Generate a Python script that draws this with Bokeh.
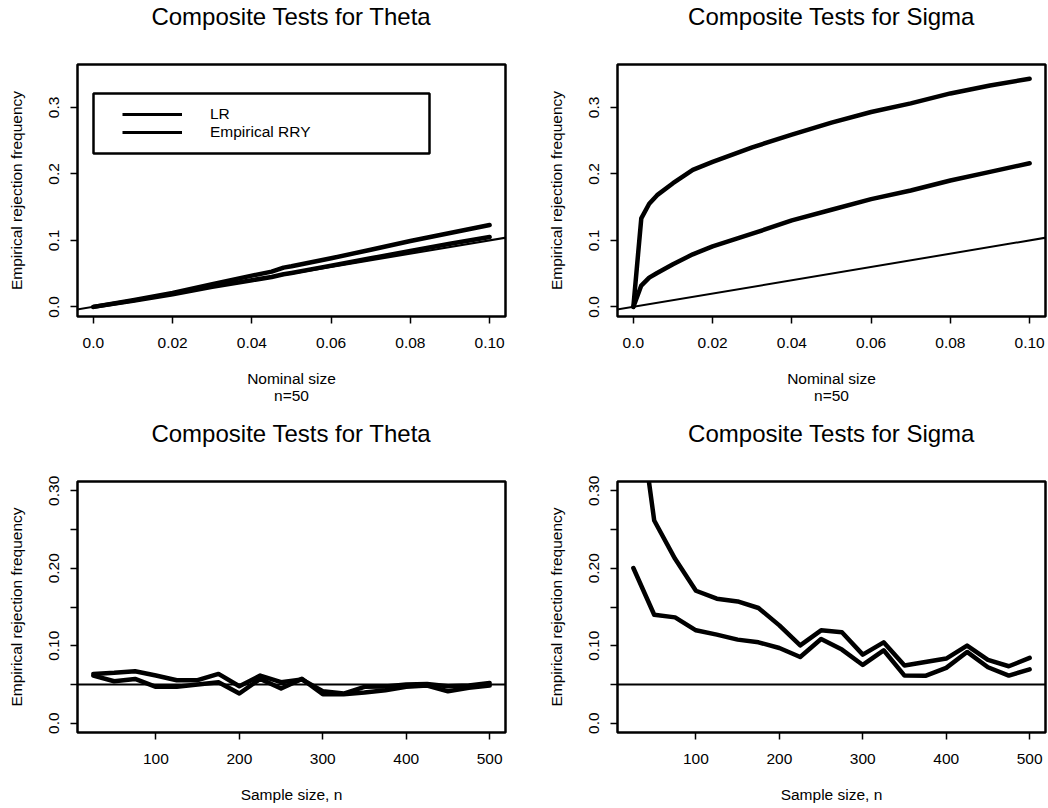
from bokeh.plotting import figure
from bokeh.models import Range1d, FixedTicker, Slope, Span, Legend, LegendItem, BoxAnnotation, Title
from bokeh.layouts import column, row
from bokeh.embed import file_html
from bokeh.resources import INLINE

FONT = "Liberation Sans"

# ---- data: rejection frequency vs nominal size (n = 50) ----
theta_nom_x = [0.0, 0.01, 0.02, 0.03, 0.04, 0.045, 0.048, 0.05, 0.06, 0.07, 0.08, 0.09, 0.10]
theta_nom_lr = [0.0, 0.010, 0.021, 0.034, 0.047, 0.053, 0.059, 0.061, 0.073, 0.086, 0.099, 0.111, 0.123]
theta_nom_rry = [0.0, 0.009, 0.019, 0.030, 0.040, 0.045, 0.049, 0.051, 0.062, 0.073, 0.084, 0.095, 0.105]

sigma_nom_x = [0.0, 0.002, 0.004, 0.006, 0.01, 0.015, 0.02, 0.03, 0.04, 0.05, 0.06, 0.07, 0.08, 0.09, 0.10]
sigma_nom_lr = [0.0, 0.133, 0.155, 0.168, 0.186, 0.206, 0.218, 0.240, 0.259, 0.277, 0.293, 0.306, 0.321, 0.333, 0.343]
sigma_nom_rry = [0.0, 0.032, 0.044, 0.051, 0.064, 0.079, 0.091, 0.110, 0.130, 0.146, 0.162, 0.175, 0.190, 0.203, 0.216]

# ---- data: rejection frequency vs sample size (nominal 5%) ----
sample_sizes = [25, 50, 75, 100, 125, 150, 175, 200, 225, 250, 275, 300, 325, 350, 375, 400, 425, 450, 475, 500]
theta_n_lr = [0.0636, 0.065, 0.067, 0.0615, 0.0555, 0.0555, 0.0636, 0.0477, 0.0615, 0.0529, 0.0563, 0.0413,
              0.0383, 0.0470, 0.0475, 0.0499, 0.0507, 0.0477, 0.0486, 0.0520]
theta_n_rry = [0.0615, 0.0542, 0.0572, 0.0470, 0.0470, 0.0499, 0.0529, 0.0383, 0.0572, 0.0447, 0.0572, 0.0374,
               0.0374, 0.0396, 0.0426, 0.0470, 0.0486, 0.0413, 0.0456, 0.0486]
sigma_n_lr = [0.460, 0.2616, 0.2122, 0.171, 0.1607, 0.1572, 0.1487, 0.1263, 0.1005, 0.1199, 0.1173, 0.0885,
              0.1044, 0.0744, 0.0791, 0.0834, 0.1001, 0.0817, 0.0735, 0.0843]
sigma_n_rry = [0.2003, 0.140, 0.1366, 0.1199, 0.1143, 0.1079, 0.1044, 0.0971, 0.0855, 0.1087, 0.0950, 0.0752,
               0.0941, 0.0615, 0.0611, 0.0714, 0.0920, 0.0722, 0.0615, 0.0696]
nominal_level = 0.05

# ---- axis ticks and labels ----
nom_xticks = [0.0, 0.02, 0.04, 0.06, 0.08, 0.10]
nom_xlabels = ["0.0", "0.02", "0.04", "0.06", "0.08", "0.10"]
nom_yticks = [0.0, 0.1, 0.2, 0.3]
nom_ylabels = ["0.0", "0.1", "0.2", "0.3"]
n_xticks = [100, 200, 300, 400, 500]
n_xlabels = ["100", "200", "300", "400", "500"]
n_yticks = [0.0, 0.05, 0.10, 0.15, 0.20, 0.25, 0.30]
n_ylabels = ["0.0", "", "0.10", "", "0.20", "", "0.30"]
legend_labels = ["LR", "Empirical RRY"]

titles = ["Composite Tests for Theta", "Composite Tests for Sigma"]
ylab = "Empirical rejection frequency"


def make_panel(title, xlab, xr, yr, xticks, xlabels, yticks, ylabels, left, right, top, bottom, fh):
    p = figure(frame_width=428, frame_height=fh, x_range=Range1d(*xr), y_range=Range1d(*yr),
               output_backend="svg", toolbar_location=None, title=None,
               min_border_left=left, min_border_right=right, min_border_top=top, min_border_bottom=bottom,
               background_fill_color="white", border_fill_color="white")
    p.outline_line_color = "black"
    p.outline_line_width = 2.5
    p.outline_line_alpha = 1.0
    p.xgrid.visible = False
    p.ygrid.visible = False
    # spacer next to the frame, then the main title above it
    p.add_layout(Title(text=" ", text_font_size="10px", standoff=22), "above")
    p.add_layout(Title(text=title, align="center", vertical_align="bottom", standoff=0,
                       text_font=FONT, text_font_size="24px", text_font_style="normal",
                       text_color="black"), "above")
    for ax, ticks, labels in ((p.xaxis[0], xticks, xlabels), (p.yaxis[0], yticks, ylabels)):
        ax.ticker = FixedTicker(ticks=ticks)
        ax.major_label_overrides = {t: l for t, l in zip(ticks, labels)}
        ax.minor_tick_line_color = None
        ax.axis_line_color = None
        ax.major_tick_line_color = "black"
        ax.major_tick_line_width = 1.5
        ax.major_tick_out = 7
        ax.major_tick_in = 0
        ax.major_label_text_font = FONT
        ax.major_label_text_font_size = "15.5px"
        ax.major_label_text_color = "black"
        ax.axis_label_text_font = FONT
        ax.axis_label_text_font_size = "15.5px"
        ax.axis_label_text_font_style = "normal"
        ax.axis_label_text_color = "black"
        ax.axis_label_text_line_height = 1.05
    p.xaxis.axis_label = xlab
    p.yaxis.axis_label = ylab
    p.yaxis.major_label_orientation = "vertical"
    p.xaxis.major_label_standoff = 14
    p.yaxis.major_label_standoff = 11
    p.xaxis.axis_label_standoff = 19
    p.yaxis.axis_label_standoff = 22
    return p


def add_series(p, x, a, b):
    r1 = p.line(x, a, line_color="black", line_width=4.5, line_join="round", line_cap="round")
    r2 = p.line(x, b, line_color="black", line_width=4.5, line_join="round", line_cap="round")
    return r1, r2


# Panel 1
p1 = make_panel(titles[0], "Nominal size\nn=50", (-0.004, 0.104), (-0.0145, 0.3645),
                nom_xticks, nom_xlabels, nom_yticks, nom_ylabels, 77, 19, 64, 80, 252)
p1.add_layout(Slope(gradient=1, y_intercept=0, line_color="black", line_width=2))
add_series(p1, theta_nom_x, theta_nom_lr, theta_nom_rry)
# single-point renderers: only serve as legend keys (draw nothing in the plot)
leg_r1 = p1.line(theta_nom_x[:1], theta_nom_lr[:1], line_color="black", line_width=3)
leg_r2 = p1.line(theta_nom_x[:1], theta_nom_rry[:1], line_color="black", line_width=3)
p1.add_layout(BoxAnnotation(left=16, right=352, top=223, bottom=163,
                            left_units="screen", right_units="screen", top_units="screen", bottom_units="screen",
                            fill_alpha=0, line_color="black", line_alpha=1.0, line_width=2.5))
legend = Legend(items=[LegendItem(label=legend_labels[0], renderers=[leg_r1]),
                       LegendItem(label=legend_labels[1], renderers=[leg_r2])],
                location=(45, 175), padding=0, margin=0, spacing=0,
                glyph_width=60, glyph_height=16, label_height=16, label_standoff=28,
                border_line_alpha=0, background_fill_alpha=0,
                label_text_font=FONT, label_text_font_size="15.5px", label_text_color="black")
p1.add_layout(legend, "center")

# Panel 2
p2 = make_panel(titles[1], "Nominal size\nn=50", (-0.004, 0.104), (-0.0145, 0.3645),
                nom_xticks, nom_xlabels, nom_yticks, nom_ylabels, 93, 3, 64, 80, 252)
p2.add_layout(Slope(gradient=1, y_intercept=0, line_color="black", line_width=2))
add_series(p2, sigma_nom_x, sigma_nom_lr, sigma_nom_rry)

# Panel 3
p3 = make_panel(titles[0], "Sample size, n", (6, 519), (-0.012, 0.312),
                n_xticks, n_xlabels, n_yticks, n_ylabels, 77, 19, 74, 70, 251)
p3.add_layout(Span(location=nominal_level, dimension="width", line_color="black", line_width=2))
add_series(p3, sample_sizes, theta_n_lr, theta_n_rry)

# Panel 4
p4 = make_panel(titles[1], "Sample size, n", (6, 519), (-0.012, 0.312),
                n_xticks, n_xlabels, n_yticks, n_ylabels, 93, 3, 74, 70, 251)
p4.add_layout(Span(location=nominal_level, dimension="width", line_color="black", line_width=2))
add_series(p4, sample_sizes, sigma_n_lr, sigma_n_rry)

layout = column(row(p1, p2), row(p3, p4))
open("out.html", "w").write(file_html(layout, INLINE))
